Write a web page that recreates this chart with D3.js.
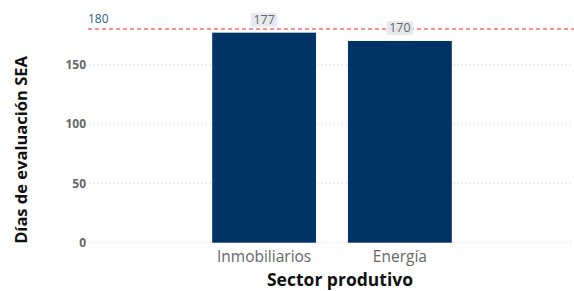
<!DOCTYPE html>
<html><head><meta charset="utf-8">
<script src="https://cdn.jsdelivr.net/npm/d3@7"></script>
<style>body{margin:0;background:#fff;} svg{display:block;font-family:"Open Sans",sans-serif;}</style>
</head><body>
<svg id="c" width="574" height="291"></svg>
<script>
const categories = ["Inmobiliarios", "Energía"];
const values = [177, 170];
const yTicks = [0, 50, 100, 150];
const refValue = 180;
const refLabel = "180";
const xTitle = "Sector produtivo";
const yTitle = "Días de evaluación SEA";

const svg = d3.select("#c");
const left = 90, right = 574;
const y = d3.scaleLinear().domain([0, 150]).range([242.7, 64.7]);
const x = d3.scaleBand().domain(categories).range([left, right]).paddingInner(0.235).paddingOuter(0.9);

// grid
svg.append("g").selectAll("line").data(yTicks).join("line")
  .attr("x1", left).attr("x2", right)
  .attr("y1", d => y(d)).attr("y2", d => y(d))
  .attr("stroke", "#d0d0d0").attr("stroke-width", 1).attr("stroke-dasharray", "1,3");

// y ticks
svg.append("g").selectAll("text").data(yTicks).join("text")
  .attr("x", 86).attr("y", d => y(d)).attr("dy", "0.35em")
  .attr("text-anchor", "end").attr("font-size", 12).attr("font-weight", "bold")
  .attr("fill", "#666").text(d => d);

// bars
svg.append("g").selectAll("rect").data(values).join("rect")
  .attr("x", (d, i) => x(categories[i])).attr("width", x.bandwidth())
  .attr("y", d => y(d)).attr("height", d => y(0) - y(d))
  .attr("fill", "#003366");

// reference line
svg.append("line").attr("x1", left - 2).attr("x2", right)
  .attr("y1", y(refValue)).attr("y2", y(refValue))
  .attr("stroke", "#ff9090").attr("stroke-width", 2).attr("stroke-dasharray", "4,3");
svg.append("text").attr("x", 88).attr("y", y(refValue) - 6)
  .attr("font-size", 12).attr("fill", "#2e5a8a").text(refLabel);

// data labels
const lg = svg.append("g").selectAll("g").data(values).join("g")
  .attr("transform", (d, i) => `translate(${x(categories[i]) + x.bandwidth() / 2},${y(d) - 13})`);
lg.append("rect").attr("x", -13.5).attr("y", -7).attr("width", 27).attr("height", 14)
  .attr("rx", 3).attr("fill", "#e4e7ec").attr("opacity", 0.9);
lg.append("text").attr("text-anchor", "middle").attr("dy", "0.36em")
  .attr("font-size", 12.5).attr("fill", "#666").text(d => d);

// category labels
svg.append("g").selectAll("text").data(categories).join("text")
  .attr("x", d => x(d) + x.bandwidth() / 2).attr("y", 262)
  .attr("text-anchor", "middle").attr("font-size", 15.5).attr("fill", "#666").text(d => d);

// titles
svg.append("text").attr("x", 340).attr("y", 286)
  .attr("text-anchor", "middle").attr("font-size", 17.5).attr("font-weight", "bold")
  .attr("fill", "#111").text(xTitle);
svg.append("text").attr("transform", "translate(27,150) rotate(-90)")
  .attr("text-anchor", "middle").attr("font-size", 16.5).attr("font-weight", "bold")
  .attr("fill", "#111").text(yTitle);
</script>
</body></html>
